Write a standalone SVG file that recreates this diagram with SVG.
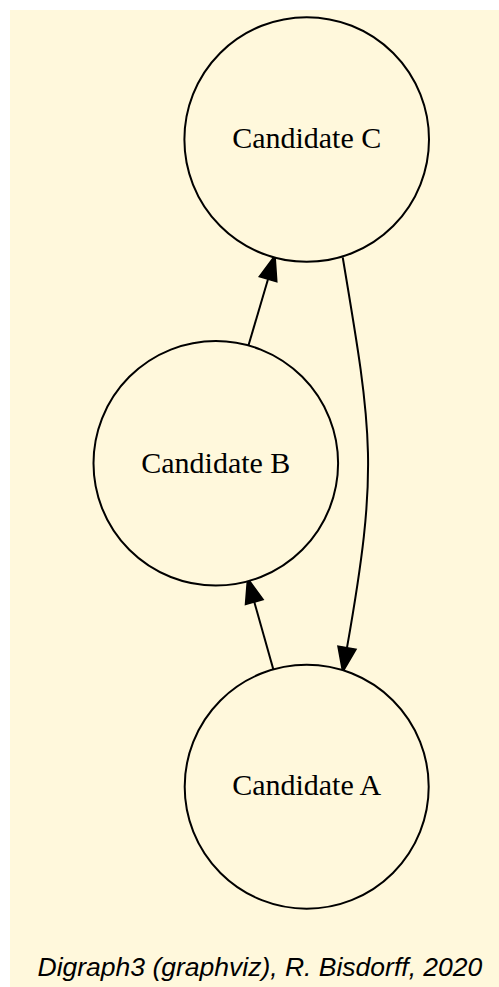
<svg xmlns="http://www.w3.org/2000/svg" width="499" height="987" viewBox="0 0 499 987">
<style>
.node circle{fill:#fff8dc;stroke:#000;stroke-width:2}
.node text{font-family:"Liberation Serif","Times New Roman",serif;font-size:30px;text-anchor:middle;fill:#000}
.edge{fill:none;stroke:#000;stroke-width:2}
.foot{font-family:"Liberation Sans",Arial,sans-serif;font-style:italic;font-size:26.5px;fill:#000}
</style>
<defs>
<marker id="arr" markerUnits="userSpaceOnUse" markerWidth="30" markerHeight="24" viewBox="-2 -10 28 20" refX="0" refY="0" orient="auto">
<path d="M0,-8.5 L23,0 L0,8.5 Z" fill="#000" stroke="#000" stroke-width="1.5"/>
</marker>
</defs>
<rect x="0" y="0" width="499" height="987" fill="#fff"/>
<rect x="10" y="10" width="489" height="977" fill="#fff8dc"/>
<g id="edges">
<path class="edge" d="M248.3,346 L268,279.2" marker-end="url(#arr)"/>
<path class="edge" d="M273.3,669.3 L254.3,602" marker-end="url(#arr)"/>
<path class="edge" d="M342.7,257.3 C372.8,436 378.5,469 347,647.7" marker-end="url(#arr)"/>
</g>
<g id="node-C" class="node">
<circle cx="306.7" cy="139.5" r="122.3"/>
<text x="306.7" y="148">Candidate C</text>
</g>
<g id="node-B" class="node">
<circle cx="215.8" cy="463.3" r="122.3"/>
<text x="215.8" y="472.5">Candidate B</text>
</g>
<g id="node-A" class="node">
<circle cx="306.7" cy="786.7" r="122"/>
<text x="306.7" y="795">Candidate A</text>
</g>
<text class="foot" x="37.5" y="976">Digraph3 (graphviz), R. Bisdorff, 2020</text>
</svg>
